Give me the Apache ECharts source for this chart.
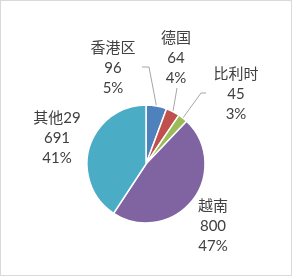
<!DOCTYPE html>
<html><head><meta charset="utf-8">
<script src="https://cdn.jsdelivr.net/npm/echarts@6/dist/echarts.min.js"></script>
<style>html,body{margin:0;padding:0;background:#fff}#c{width:292px;height:276px;box-sizing:border-box;border:1px solid #d9d9d9}</style>
</head><body><div id="c"></div>
<script>
const categories = ['香港区', '德国', '比利时', '越南', '其他29'];
const values = [96, 64, 45, 800, 691];
const pctLabels = ['5%', '4%', '3%', '47%', '41%'];
const colors = ['#4F81BD', '#C0504D', '#9BBB59', '#8064A2', '#4BACC6'];
// label placement (style)
const labelPos = [[112, 67], [175, 57], [235, 93], [212, 225], [56, 137]];
const elbows = [[[148, 66], [141, 66]], [[176, 87]], [[200, 92], [205, 92]], null, null];

const chart = echarts.init(document.getElementById('c'), null, {renderer: 'canvas'});
chart.setOption({
  animation: false,
  series: [{
    type: 'pie',
    center: [145, 163],
    radius: 59,
    startAngle: 90,
    clockwise: true,
    avoidLabelOverlap: false,
    itemStyle: {borderColor: '#fff', borderWidth: 1.5},
    label: {
      show: true,
      position: 'outside',
      fontFamily: 'Lato, "Noto Sans CJK SC", sans-serif',
      fontSize: 15,
      lineHeight: 20,
      color: '#404040',
      formatter: p => p.name + '\n' + p.value + '\n' + pctLabels[p.dataIndex]
    },
    labelLine: {show: true, lineStyle: {color: '#a6a6a6', width: 1}},
    labelLayout: function (params) {
      const i = params.dataIndex;
      const res = {x: labelPos[i][0], y: labelPos[i][1], align: 'center', verticalAlign: 'middle'};
      if (elbows[i] && params.labelLinePoints) {
        res.labelLinePoints = [params.labelLinePoints[0]].concat(elbows[i]);
      }
      return res;
    },
    data: categories.map((c, i) => ({
      name: c, value: values[i],
      itemStyle: {color: colors[i]},
      labelLine: {show: !!elbows[i]}
    }))
  }]
});
</script></body></html>
